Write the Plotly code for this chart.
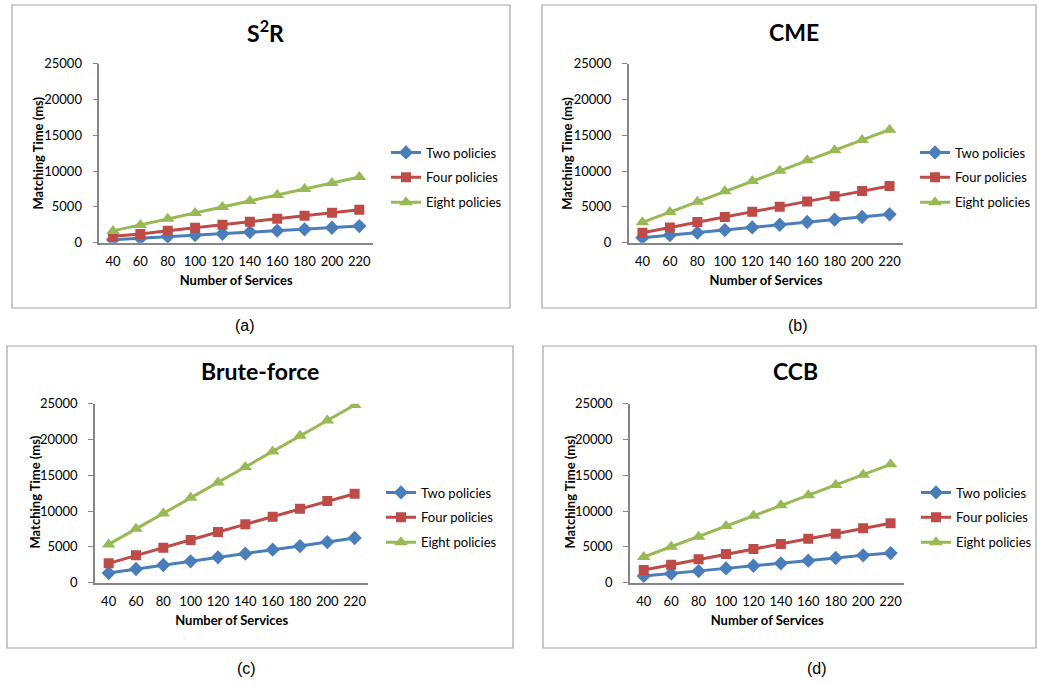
import plotly.graph_objects as go

W, H = 1039, 686

services = ["40", "60", "80", "100", "120", "140", "160", "180", "200", "220"]
series_names = ["Two policies", "Four policies", "Eight policies"]

s2r_two = [420, 620, 860, 1060, 1250, 1480, 1680, 1870, 2090, 2320]
s2r_four = [900, 1230, 1680, 2100, 2510, 2930, 3350, 3770, 4190, 4610]
s2r_eight = [1650, 2470, 3350, 4140, 4980, 5820, 6660, 7500, 8330, 9170]

cme_two = [700, 1070, 1400, 1770, 2140, 2510, 2890, 3210, 3590, 3960]
cme_four = [1400, 2140, 2890, 3590, 4330, 5030, 5770, 6470, 7220, 7910]
cme_eight = [2840, 4280, 5730, 7170, 8610, 10060, 11500, 12900, 14340, 15780]

bf_two = [1350, 1910, 2470, 2980, 3540, 4050, 4610, 5120, 5680, 6240]
bf_four = [2700, 3820, 4890, 5960, 7080, 8150, 9220, 10340, 11410, 12430]
bf_eight = [5350, 7540, 9680, 11870, 14010, 16160, 18340, 20530, 22670, 24810]

ccb_two = [930, 1260, 1630, 2000, 2370, 2700, 3070, 3450, 3820, 4140]
ccb_four = [1770, 2510, 3260, 4000, 4700, 5400, 6150, 6840, 7590, 8290]
ccb_eight = [3590, 5030, 6430, 7910, 9360, 10800, 12200, 13640, 15080, 16530]

titles = ["S<sup>2</sup>R", "CME", "Brute-force", "CCB"]
sub_labels = ["(a)", "(b)", "(c)", "(d)"]
x_title = "Number of Services"
y_title = "Matching Time (ms)"
panels_data = [
    [s2r_two, s2r_four, s2r_eight],
    [cme_two, cme_four, cme_eight],
    [bf_two, bf_four, bf_eight],
    [ccb_two, ccb_four, ccb_eight],
]

colors = ["#4A7EBB", "#BE4B48", "#98B954"]
symbols = ["diamond", "square", "triangle-up"]
msizes = [11, 10, 12]

# layout geometry in page pixels
panels = [
    dict(px=(99.3, 373.0), py=(63.7, 242.7), box=(12, 510, 5, 308), title=(265, 31.7), label=(245, 325), leg=(386, 137.5), ytit=(38.3, 153.3)),
    dict(px=(628.7, 903.3), py=(63.7, 242.7), box=(542, 1036, 5, 308), title=(794, 31.7), label=(798, 325), leg=(915, 137.5), ytit=(567.5, 153.3)),
    dict(px=(95.0, 368.3), py=(403.7, 582.7), box=(7, 513, 346, 648), title=(260, 371), label=(246, 668), leg=(381, 477.5), ytit=(34.0, 492.5)),
    dict(px=(630.0, 904.3), py=(403.7, 582.7), box=(543, 1036, 346, 648), title=(795, 371), label=(817, 668), leg=(916, 477.5), ytit=(569.0, 492.5)),
]

def fx(p):
    return p / W

def fy(p):
    return 1 - p / H

FONT = "Lato, 'Open Sans', sans-serif"
fig = go.Figure()
layout = dict(
    width=W, height=H, margin=dict(l=0, r=0, t=0, b=0, autoexpand=False),
    paper_bgcolor="white", plot_bgcolor="white",
    font=dict(family=FONT, size=13, color="#000000"),
    shapes=[], annotations=[],
)

for i, (pan, data) in enumerate(zip(panels, panels_data)):
    k = "" if i == 0 else str(i + 1)
    xa, ya = "x" + k, "y" + k
    legname = "legend" + k
    for j in range(3):
        fig.add_trace(go.Scatter(
            x=services, y=data[j], name=series_names[j], mode="lines+markers",
            line=dict(color=colors[j], width=3),
            marker=dict(symbol=symbols[j], size=msizes[j], color=colors[j]),
            xaxis=xa, yaxis=ya, legend=legname, legendgroup=f"g{i}{j}",
        ))
    layout["xaxis" + k] = dict(
        domain=[fx(pan["px"][0]), fx(pan["px"][1])], anchor=ya,
        type="category", range=[-0.5, 9.5], showgrid=False, zeroline=False,
        showline=True, linecolor="#868686", linewidth=1.5, ticks="",
        ticklabelstandoff=6, automargin=False,
        tickfont=dict(family=FONT, size=13),
        title=dict(text="<b>" + x_title + "</b>", font=dict(family=FONT, size=13), standoff=8),
    )
    layout["yaxis" + k] = dict(
        domain=[fy(pan["py"][1]), fy(pan["py"][0])], anchor=xa,
        range=[0, 25000], dtick=5000, tickformat="d", showgrid=False, zeroline=False,
        showline=True, linecolor="#868686", linewidth=1.5,
        ticks="outside", ticklen=5, tickcolor="#868686", tickwidth=1,
        ticklabelstandoff=8, automargin=False,
        tickfont=dict(family=FONT, size=13),
    )
    layout[legname] = dict(
        x=fx(pan["leg"][0]), y=fy(pan["leg"][1]), xanchor="left", yanchor="top",
        bgcolor="rgba(0,0,0,0)", font=dict(family=FONT, size=13),
        traceorder="grouped", tracegroupgap=5, itemwidth=30,
    )
    b = pan["box"]
    layout["shapes"].append(dict(
        type="rect", xref="paper", yref="paper",
        x0=fx(b[0]), x1=fx(b[1]), y0=fy(b[3]), y1=fy(b[2]),
        line=dict(color="#A6A6A6", width=1.2), fillcolor="rgba(0,0,0,0)", layer="below",
    ))
    layout["annotations"].append(dict(
        text="<b>" + titles[i] + "</b>", xref="paper", yref="paper",
        x=fx(pan["title"][0]), y=fy(pan["title"][1]), xanchor="center", yanchor="middle",
        showarrow=False, font=dict(family=FONT, size=23, color="#000000"),
    ))
    layout["annotations"].append(dict(
        text="<b>" + y_title + "</b>", xref="paper", yref="paper", textangle=-90,
        x=fx(pan["ytit"][0]), y=fy(pan["ytit"][1]), xanchor="center", yanchor="middle",
        showarrow=False, font=dict(family=FONT, size=13, color="#000000"),
    ))
    layout["annotations"].append(dict(
        text=sub_labels[i], xref="paper", yref="paper",
        x=fx(pan["label"][0]), y=fy(pan["label"][1]), xanchor="center", yanchor="middle",
        showarrow=False, font=dict(family="Liberation Sans, Arial, sans-serif", size=16, color="#000000"),
    ))

fig.update_layout(**layout)
fig.write_html("out.html", config={"displayModeBar": False},
               post_script="document.body.style.margin='0';document.body.style.overflow='hidden';")
